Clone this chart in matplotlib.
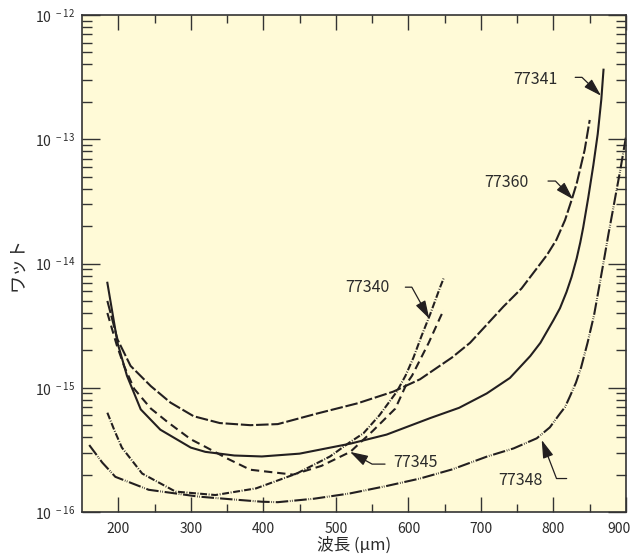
import numpy as np
import matplotlib
matplotlib.use('Agg')
import matplotlib.pyplot as plt
from matplotlib.ticker import FixedLocator, LogLocator, FuncFormatter, NullFormatter
from matplotlib.transforms import ScaledTranslation

plt.rcParams['font.family'] = ['Liberation Sans Narrow', 'Noto Sans CJK JP', 'DejaVu Sans']
plt.rcParams['mathtext.fontset'] = 'custom'
plt.rcParams['mathtext.rm'] = 'Liberation Sans Narrow'
plt.rcParams['lines.scale_dashes'] = False

# 波長 (um) と ワット、 曲線ごと
wl_77341 = [185, 199, 212, 231, 258, 300, 320, 360, 398, 450, 520, 570, 630, 670, 708, 740, 768, 782,
            800, 809, 818, 825, 832, 837, 841, 848, 855, 861, 866, 869]
w_77341 = [7.0e-15, 2.3e-15, 1.25e-15, 6.7e-16, 4.6e-16, 3.3e-16, 3.05e-16, 2.85e-16, 2.8e-16, 2.95e-16,
           3.55e-16, 4.2e-16, 5.7e-16, 6.9e-16, 9.0e-16, 1.2e-15, 1.8e-15, 2.3e-15,
           3.5e-15, 4.37e-15, 5.9e-15, 7.8e-15, 1.1e-14, 1.48e-14, 1.95e-14, 3.4e-14, 6.2e-14, 1.1e-13,
           2.1e-13, 3.63e-13]

wl_77360 = [185, 199, 217, 245, 272, 304, 340, 382, 420, 474, 530, 579, 616, 660, 685, 731, 756, 781, 791,
            804, 816, 825, 832, 843, 850]
w_77360 = [5.0e-15, 2.45e-15, 1.5e-15, 1.03e-15, 7.6e-16, 5.9e-16, 5.2e-16, 5.0e-16, 5.1e-16, 6.2e-16,
           7.5e-16, 9.3e-16, 1.17e-15, 1.75e-15, 2.3e-15, 4.5e-15, 6.3e-15, 9.8e-15, 1.17e-14,
           1.55e-14, 2.24e-14, 3.24e-14, 4.4e-14, 8.2e-14, 1.43e-13]

wl_77345 = [185, 198, 208, 222, 245, 268, 300, 320, 350, 382, 441, 480, 520, 551, 582, 598, 605, 628,
            644, 649]
w_77345 = [4.0e-15, 2.2e-15, 1.5e-15, 9.8e-16, 6.8e-16, 5.3e-16, 3.85e-16, 3.35e-16, 2.7e-16, 2.19e-16,
           2.0e-16, 2.35e-16, 3.05e-16, 4.5e-16, 6.8e-16, 1.09e-15, 1.25e-15, 2.3e-15,
           3.7e-15, 4.26e-15]

wl_77340 = [185, 195, 205, 233, 279, 334, 390, 446, 492, 518, 538, 560, 584, 596, 607, 618, 630, 644, 649]
w_77340 = [6.3e-16, 4.5e-16, 3.3e-16, 2.04e-16, 1.46e-16, 1.37e-16, 1.55e-16, 2.04e-16, 2.8e-16, 3.6e-16,
           4.3e-16, 6.0e-16, 9.3e-16, 1.25e-15, 1.75e-15, 2.6e-15, 3.9e-15, 6.5e-15, 7.7e-15]

wl_77348 = [160, 178, 196, 242, 311, 360, 398, 420, 470, 519, 570, 616, 660, 708, 745, 777, 795, 809,
            816, 823, 831, 838, 847, 856, 864, 870, 876, 882, 887, 892, 900]
w_77348 = [3.46e-16, 2.5e-16, 1.92e-16, 1.51e-16, 1.33e-16, 1.26e-16, 1.21e-16, 1.2e-16, 1.28e-16,
           1.41e-16, 1.62e-16, 1.86e-16, 2.2e-16, 2.79e-16, 3.25e-16, 3.92e-16, 4.8e-16, 6.2e-16,
           7.0e-16, 8.6e-16, 1.1e-15, 1.45e-15, 2.3e-15, 3.85e-15, 7.0e-15, 1.1e-14, 1.75e-14, 2.7e-14,
           3.9e-14, 5.6e-14, 1.05e-13]

x_ticks = [200, 300, 400, 500, 600, 700, 800, 900]
y_ticks = [1e-16, 1e-15, 1e-14, 1e-13, 1e-12]

lc = '#231f20'
tc = '#2b2b2b'

fig = plt.figure(figsize=(6.32, 5.56), dpi=100)
ax = fig.add_axes([0.1297, 0.0791, 0.8608, 0.8939])
ax.set_facecolor('#fffad7')

lw = 1.5
ax.plot(wl_77341, w_77341, color=lc, lw=lw)
ax.plot(wl_77360, w_77360, color=lc, lw=lw, dashes=(9, 2))
ax.plot(wl_77345, w_77345, color=lc, lw=lw, dashes=(6, 3.5))
ax.plot(wl_77340, w_77340, color=lc, lw=lw, dashes=(5, 1.2, 0.6, 1.2))
ax.plot(wl_77348, w_77348, color=lc, lw=lw, dashes=(9, 1.2, 0.5, 1.0, 0.5, 1.2))

ax.set_yscale('log')
ax.set_xlim(150, 900)
ax.set_ylim(1e-16, 1e-12)

ax.xaxis.set_major_locator(FixedLocator(x_ticks))
ax.xaxis.set_minor_locator(FixedLocator([250, 350, 450, 550, 650, 750, 850]))
ax.yaxis.set_major_locator(FixedLocator(y_ticks))
ax.yaxis.set_minor_locator(LogLocator(base=10, subs=np.arange(2, 10)))
ax.yaxis.set_minor_formatter(NullFormatter())


def fmt(v, pos):
    e = int(round(np.log10(v)))
    return r'$\mathregular{10^{\ %d}}$' % e


ax.yaxis.set_major_formatter(FuncFormatter(fmt))

ax.tick_params(which='both', direction='in', top=True, right=True, color='#333333', width=1.0,
               labelsize=10, labelcolor=tc)
ax.tick_params(axis='x', which='major', length=10.5, pad=7)
ax.tick_params(axis='x', which='minor', length=6)
ax.tick_params(axis='y', which='major', length=13, pad=5)
ax.tick_params(axis='y', which='minor', length=7)
for s in ax.spines.values():
    s.set_linewidth(1.2)
    s.set_color('#333333')

# 900 のラベルを少し左へ
last = ax.xaxis.get_major_ticks()[-1].label1
last.set_transform(last.get_transform() + ScaledTranslation(-5 / 72, 0, fig.dpi_scale_trans))

ax.set_xlabel('波長 (μm)', fontsize=12, color=tc, labelpad=1)
ax.set_ylabel('ワット', fontsize=13, color=tc, labelpad=6)

# ラベルと矢印
annots = [
    ('77341', (806, 3.05e-13), 'right', (830, 3.15e-13), (865.6, 2.24e-13), 0, -44),
    ('77360', (766, 4.47e-14), 'right', (792.5, 4.61e-14), (827, 3.29e-14), 0, -46),
    ('77340', (573.7, 6.38e-15), 'right', (595.8, 6.45e-15), (628.8, 3.6e-15), 0, -61),
    ('77345', (579.2, 2.49e-16), 'left', (567.8, 2.43e-16), (519.5, 3.05e-16), 180, 151),
    ('77348', (754.3, 1.81e-16), 'center', (818.2, 1.86e-16), (783.8, 3.8e-16), 180, 111),
]
for lab, txy, ha, tail, tip, aA, aB in annots:
    ax.text(txy[0], txy[1], lab, ha=ha, va='center', fontsize=11.5, color=tc)
    ax.annotate('', xy=tip, xytext=tail,
                arrowprops=dict(arrowstyle='-|>,head_length=1.0,head_width=0.3',
                                connectionstyle='angle,angleA=%g,angleB=%g,rad=0' % (aA, aB),
                                color=lc, lw=0.9, shrinkA=0, shrinkB=0, mutation_scale=11))

fig.savefig('out.png', dpi=100, facecolor='white')
